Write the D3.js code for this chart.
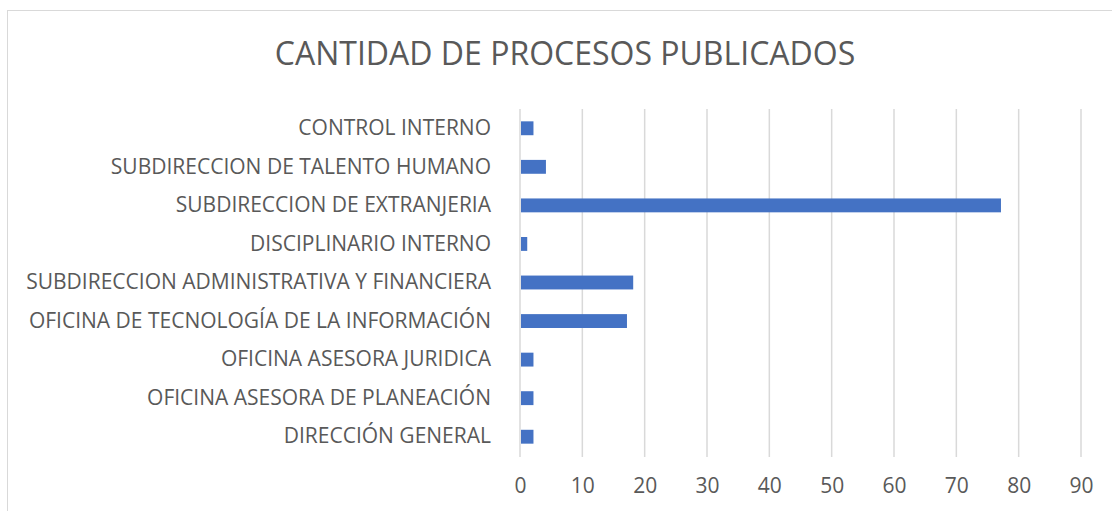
<!DOCTYPE html>
<html>
<head>
<meta charset="utf-8">
<script src="https://cdn.jsdelivr.net/npm/d3@7"></script>
<style>
  body { margin: 0; background: #fff; }
  svg { display: block; }
  text { font-family: "Open Sans", sans-serif; fill: #595959; }
</style>
</head>
<body>
<div id="chart"></div>
<script>
// categories from bottom to top as in the picture
const categories = [
  "DIRECCIÓN GENERAL",
  "OFICINA ASESORA DE PLANEACIÓN",
  "OFICINA ASESORA JURIDICA",
  "OFICINA DE TECNOLOGÍA DE LA INFORMACIÓN",
  "SUBDIRECCION ADMINISTRATIVA Y FINANCIERA",
  "DISCIPLINARIO INTERNO",
  "SUBDIRECCION DE EXTRANJERIA",
  "SUBDIRECCION DE TALENTO HUMANO",
  "CONTROL INTERNO"
];
const values = [2, 2, 2, 17, 18, 1, 77, 4, 2];
const xTicks = [0, 10, 20, 30, 40, 50, 60, 70, 80, 90];
const title = "CANTIDAD DE PROCESOS PUBLICADOS";

const width = 1112, height = 511;
const margin = { top: 109, right: 31, bottom: 55, left: 520 };

const svg = d3.select('#chart').append('svg')
    .attr('width', width)
    .attr('height', height);

// chart border
svg.append('rect')
    .attr('x', 7.5).attr('y', 10.5)
    .attr('width', width + 10).attr('height', height + 10)
    .attr('fill', 'none')
    .attr('stroke', '#d9d9d9')
    .attr('stroke-width', 1);

svg.append('text')
    .attr('x', 565).attr('y', 65)
    .attr('text-anchor', 'middle')
    .style('font-size', '32px')
    .text(title);

const x = d3.scaleLinear()
    .domain([0, 90])
    .range([margin.left, width - margin.right]);

const y = d3.scaleBand()
    .domain(categories.slice().reverse())
    .range([margin.top, height - margin.bottom])
    .paddingInner(0.64)
    .paddingOuter(0.32);

// gridlines
svg.append('g')
    .selectAll('line')
    .data(xTicks)
    .join('line')
    .attr('x1', d => x(d)).attr('x2', d => x(d))
    .attr('y1', margin.top).attr('y2', height - margin.bottom + 1)
    .attr('stroke', '#d9d9d9')
    .attr('stroke-width', 1.5);

// bars
svg.append('g')
    .selectAll('rect')
    .data(categories.map((c, i) => ({ c, v: values[i] })))
    .join('rect')
    .attr('x', x(0) + 1)
    .attr('y', d => y(d.c))
    .attr('width', d => x(d.v) - x(0))
    .attr('height', y.bandwidth())
    .attr('fill', '#4472c4');

// x axis
const xAxis = svg.append('g')
    .attr('transform', `translate(0, ${height - margin.bottom})`)
    .call(d3.axisBottom(x).tickValues(xTicks).tickSize(0).tickPadding(22));
xAxis.select('.domain').remove();
xAxis.selectAll('text').style('font-size', '21px').style('font-family', '"Open Sans", sans-serif').attr('fill', '#595959');

// y axis
const yAxis = svg.append('g')
    .attr('transform', `translate(${margin.left}, 0)`)
    .call(d3.axisLeft(y).tickSize(0).tickPadding(29));
yAxis.select('.domain').remove();
yAxis.selectAll('text').style('font-size', '21px').style('font-family', '"Open Sans", sans-serif').attr('fill', '#595959');
</script>
</body>
</html>
